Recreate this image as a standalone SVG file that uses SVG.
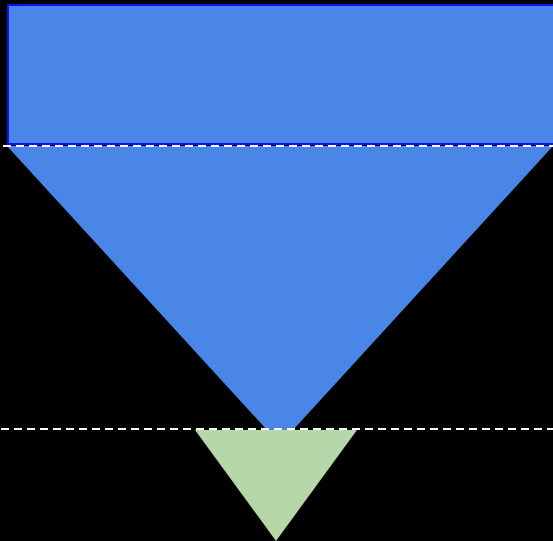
<svg xmlns="http://www.w3.org/2000/svg" width="553" height="541" viewBox="0 0 553 541">
<style>
.blue{fill:#4a86e8}
.green{fill:#b6d7a8}
.dash{stroke:#ffffff;stroke-width:2;stroke-dasharray:8 5;fill:none}
</style>
<rect width="553" height="541" fill="#000000"/>
<g id="top-box">
<rect x="8" y="5" width="560" height="139" class="blue" stroke="#1010ff" stroke-width="2"/>
</g>
<g id="funnel">
<polygon points="7,146 553,146 293,430 267,430" class="blue"/>
</g>
<g id="small-triangle">
<polygon points="195,430 357,430 276,541" class="green"/>
</g>
<g id="connectors">
<line x1="3" y1="146" x2="553" y2="146" class="dash"/>
<line x1="1" y1="429" x2="553" y2="429" class="dash"/>
</g>
</svg>
